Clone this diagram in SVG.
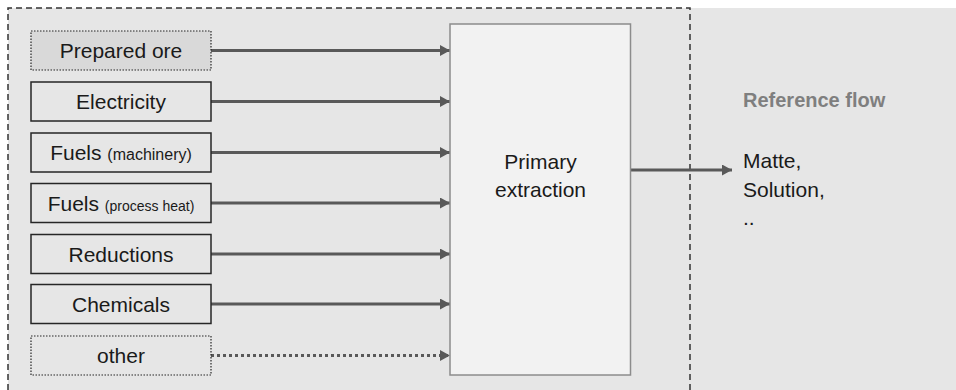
<svg xmlns="http://www.w3.org/2000/svg" width="956" height="390" viewBox="0 0 956 390">
  <style>
    .lbl { font-family: "Liberation Sans", Arial, sans-serif; font-size: 21px; fill: #1a1a1a; text-anchor: middle; }
    .box { fill: #e6e6e6; stroke: #262626; stroke-width: 1.5; }
    .dotbox { stroke: #262626; stroke-width: 1.2; stroke-dasharray: 1.5 1.5; }
    .flow { stroke: #595959; stroke-width: 3; fill: none; }
    .bound { stroke: #333333; stroke-width: 1.5; stroke-dasharray: 6 4; fill: none; }
  </style>
  <defs>
    <marker id="arrow" markerUnits="userSpaceOnUse" markerWidth="11" markerHeight="11" refX="10" refY="5.5" orient="auto">
      <path d="M0,0 L10,5.5 L0,11 Z" fill="#595959"/>
    </marker>
  </defs>

  <!-- canvas background -->
  <rect x="0" y="0" width="956" height="390" fill="#ffffff"/>
  <rect x="8" y="8" width="948" height="382" fill="#e6e6e6"/>

  <!-- system boundary -->
  <path class="bound" d="M8,390 L8,8 L690,8 L690,390"/>

  <!-- connectors -->
  <g id="connectors">
    <line class="flow" x1="211" y1="50.5" x2="450" y2="50.5" marker-end="url(#arrow)"/>
    <line class="flow" x1="211" y1="101.5" x2="450" y2="101.5" marker-end="url(#arrow)"/>
    <line class="flow" x1="211" y1="152.5" x2="450" y2="152.5" marker-end="url(#arrow)"/>
    <line class="flow" x1="211" y1="203" x2="450" y2="203" marker-end="url(#arrow)"/>
    <line class="flow" x1="211" y1="254" x2="450" y2="254" marker-end="url(#arrow)"/>
    <line class="flow" x1="211" y1="304" x2="450" y2="304" marker-end="url(#arrow)"/>
    <line class="flow" x1="211" y1="355.5" x2="450" y2="355.5" stroke-dasharray="3 3" marker-end="url(#arrow)"/>
    <line class="flow" x1="631" y1="170" x2="732" y2="170" marker-end="url(#arrow)"/>
  </g>

  <!-- inputs -->
  <g id="prepared-ore">
    <rect class="dotbox" x="31" y="31" width="180" height="39" fill="#d9d9d9"/>
    <text class="lbl" x="121" y="58">Prepared ore</text>
  </g>
  <g id="electricity">
    <rect class="box" x="31" y="82" width="180" height="39"/>
    <text class="lbl" x="121" y="109">Electricity</text>
  </g>
  <g id="fuels-machinery">
    <rect class="box" x="31" y="133" width="180" height="39"/>
    <text class="lbl" x="121" y="160">Fuels <tspan font-size="16">(machinery)</tspan></text>
  </g>
  <g id="fuels-process-heat">
    <rect class="box" x="31" y="183.5" width="180" height="39"/>
    <text class="lbl" x="121" y="210.5">Fuels <tspan font-size="14">(process heat)</tspan></text>
  </g>
  <g id="reductions">
    <rect class="box" x="31" y="234.5" width="180" height="39"/>
    <text class="lbl" x="121" y="261.5">Reductions</text>
  </g>
  <g id="chemicals">
    <rect class="box" x="31" y="284.5" width="180" height="39"/>
    <text class="lbl" x="121" y="311.5">Chemicals</text>
  </g>
  <g id="other">
    <rect class="dotbox" x="31" y="336" width="180" height="39" fill="#e6e6e6"/>
    <text class="lbl" x="121" y="363">other</text>
  </g>

  <!-- process -->
  <g id="primary-extraction">
    <rect x="450" y="24" width="180.5" height="351" fill="#f2f2f2" stroke="#8c8c8c" stroke-width="1.5"/>
    <text class="lbl" x="540.5" y="169">Primary</text>
    <text class="lbl" x="540.5" y="197">extraction</text>
  </g>

  <!-- reference flow -->
  <g id="reference-flow">
    <text x="743" y="107" font-family="Liberation Sans, Arial, sans-serif" font-size="20" font-weight="bold" fill="#7f7f7f">Reference flow</text>
    <text x="743" y="168" font-family="Liberation Sans, Arial, sans-serif" font-size="21" fill="#1a1a1a">Matte,</text>
    <text x="743" y="196.5" font-family="Liberation Sans, Arial, sans-serif" font-size="21" fill="#1a1a1a">Solution,</text>
    <text x="743" y="225" font-family="Liberation Sans, Arial, sans-serif" font-size="21" fill="#1a1a1a">..</text>
  </g>
</svg>
